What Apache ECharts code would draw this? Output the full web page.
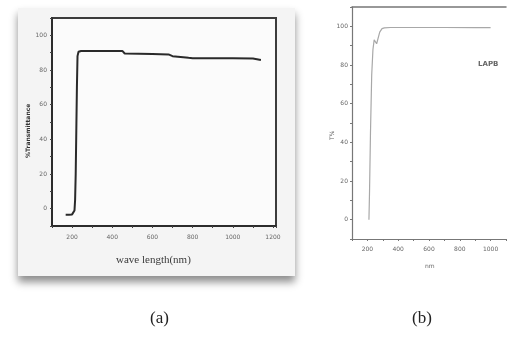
<!DOCTYPE html>
<html>
<head>
<meta charset="utf-8">
<script src="https://cdn.jsdelivr.net/npm/echarts@6/dist/echarts.min.js"></script>
<style>
  html, body { margin: 0; padding: 0; background: #fff; }
  #chart { width: 509px; height: 343px; }
</style>
</head>
<body>
<div id="chart"></div>
<script>
// (a) film transmittance
var waveA = [168, 185, 200, 208, 212, 215, 218, 221, 224, 227, 232, 245, 300, 450, 462, 600, 680, 700, 780, 800, 1000, 1100, 1140];
var transA = [-3.5, -3.5, -3.3, -2.5, -1, 5, 20, 45, 70, 88, 90.5, 91, 91, 91, 89.5, 89.3, 89, 88, 87, 86.8, 86.8, 86.6, 85.8];

// (b) LAPB transmittance
var waveB = [210, 214, 220, 228, 236, 244, 252, 260, 268, 280, 295, 310, 350, 500, 700, 900, 1000];
var transB = [0, 15, 45, 75, 88, 93, 92.5, 91, 92, 97, 98.8, 99.2, 99.4, 99.4, 99.4, 99.3, 99.3];

var captions = ['(a)', '(b)'];
var titleA = 'wave length(nm)';
var yNameA = '%Transmittance';
var titleB = 'nm';
var yNameB = 'T%';
var legendB = 'LAPB';

function zip(xs, ys) {
    var out = [];
    for (var i = 0; i < xs.length; i++) out.push([xs[i], ys[i]]);
    return out;
}

var tickFont = { fontSize: 6, color: '#666', fontFamily: 'DejaVu Sans' };

var chart = echarts.init(document.getElementById('chart'));
chart.setOption({
    animation: false,
    backgroundColor: '#ffffff',
    graphic: [
        // panel (a) card with its drop shadow
        {
            type: 'rect', z: -10, silent: true,
            shape: { x: 18, y: 8, width: 277, height: 268 },
            style: { fill: '#f4f4f4', shadowColor: 'rgba(0,0,0,0.45)', shadowBlur: 8, shadowOffsetY: 6 }
        },
        {
            type: 'text', left: 116, top: 255, silent: true,
            style: { text: titleA, font: '11px "Liberation Serif"', fill: '#3a3a3a' }
        },
        {
            type: 'text', x: 25, y: 158, rotation: Math.PI / 2, silent: true,
            style: { text: yNameA, font: 'bold 6px "DejaVu Sans"', fill: '#333' }
        },
        {
            type: 'text', left: 425, top: 263, silent: true,
            style: { text: titleB, font: '6px "DejaVu Sans"', fill: '#666' }
        },
        {
            type: 'text', x: 329, y: 140, rotation: Math.PI / 2, silent: true,
            style: { text: yNameB, font: '6px "DejaVu Sans"', fill: '#666' }
        },
        {
            type: 'text', left: 478, top: 61, silent: true,
            style: { text: legendB, font: 'bold 7px "DejaVu Sans"', fill: '#666' }
        },
        {
            type: 'text', left: 150, top: 310, silent: true,
            style: { text: captions[0], font: '17px "Liberation Serif"', fill: '#222' }
        },
        {
            type: 'text', left: 412, top: 310, silent: true,
            style: { text: captions[1], font: '17px "Liberation Serif"', fill: '#222' }
        }
    ],
    grid: [
        { left: 52, top: 18, width: 224, height: 208, show: true, backgroundColor: '#fbfbfb', borderColor: '#3c3c3c', borderWidth: 2 },
        { left: 352, top: 7, width: 157, height: 232, show: true, backgroundColor: '#ffffff', borderWidth: 0 }
    ],
    xAxis: [
        {
            gridIndex: 0, type: 'value', min: 100, max: 1215, interval: 100,
            axisLine: { onZero: false, lineStyle: { color: '#2c2c2c', width: 2 } },
            axisTick: { length: 2, lineStyle: { color: '#444' } },
            splitLine: { show: false },
            axisLabel: Object.assign({ margin: 8, formatter: function (v) { return v % 200 === 0 && v >= 200 && v <= 1200 ? String(v) : ''; } }, tickFont)
        },
        {
            gridIndex: 1, type: 'value', min: 100, max: 1100, interval: 100,
            axisLine: { onZero: false, lineStyle: { color: '#777', width: 1.2 } },
            axisTick: { length: 2, lineStyle: { color: '#777' } },
            splitLine: { show: false },
            axisLabel: Object.assign({ margin: 7, formatter: function (v) { return v % 200 === 0 && v >= 200 && v <= 1000 ? String(v) : ''; } }, tickFont)
        },
        {
            // top frame of panel (b)
            gridIndex: 1, type: 'value', position: 'top', min: 100, max: 1100,
            axisLine: { onZero: false, lineStyle: { color: '#777', width: 1.5 } },
            axisTick: { show: false }, axisLabel: { show: false }, splitLine: { show: false }
        }
    ],
    yAxis: [
        {
            gridIndex: 0, type: 'value', min: -10, max: 110, interval: 10,
            axisLine: { onZero: false, lineStyle: { color: '#2c2c2c', width: 2 } },
            axisTick: { length: 2, lineStyle: { color: '#444' } },
            splitLine: { show: false },
            axisLabel: Object.assign({ margin: 5, formatter: function (v) { return v % 20 === 0 && v >= 0 && v <= 100 ? String(v) : ''; } }, tickFont)
        },
        {
            gridIndex: 1, type: 'value', min: -10, max: 110, interval: 10,
            axisLine: { onZero: false, lineStyle: { color: '#777', width: 1.2 } },
            axisTick: { length: 2, lineStyle: { color: '#777' } },
            splitLine: { show: false },
            axisLabel: Object.assign({ margin: 4, formatter: function (v) { return v % 20 === 0 && v >= 0 && v <= 100 ? String(v) : ''; } }, tickFont)
        }
    ],
    series: [
        {
            type: 'line', xAxisIndex: 0, yAxisIndex: 0, showSymbol: false,
            data: zip(waveA, transA),
            lineStyle: { color: '#2a2a2a', width: 2 }
        },
        {
            type: 'line', xAxisIndex: 1, yAxisIndex: 1, showSymbol: false,
            data: zip(waveB, transB),
            lineStyle: { color: '#a8a8a8', width: 1.2 }
        }
    ]
});
</script>
</body>
</html>
